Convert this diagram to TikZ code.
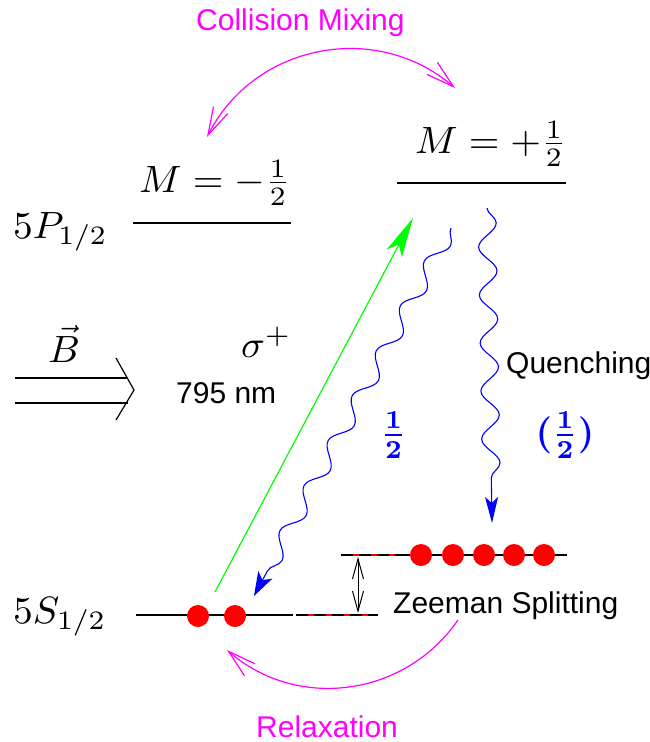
\documentclass[tikz,border=0pt]{standalone}
\usepackage{fontspec}
\setsansfont{Liberation Sans}
\usetikzlibrary{arrows.meta,decorations.pathmorphing}
\definecolor{mag}{RGB}{255,0,255}
\definecolor{grn}{RGB}{0,255,0}
\definecolor{blu}{RGB}{0,0,255}
\definecolor{dotred}{RGB}{255,0,0}
\newcommand{\bigmath}[1]{\scalebox{3.95}[3.8]{$#1$}}
\newcommand{\bigbold}[1]{\scalebox{3.7}{\boldmath$#1$}}
\begin{document}
\begin{tikzpicture}[x=1pt,y=-1pt,
  lbl/.style={inner sep=0pt, anchor=base west, font=\sffamily\fontsize{30}{34}\selectfont},
  mth/.style={inner sep=0pt, anchor=base west},
  bluelbl/.style={inner sep=0pt, text=blu},
  level/.style={line width=2.7pt},
  dashlevel/.style={line width=1.2pt},
  dotnode/.style={circle, fill=dotred, minimum size=22pt, inner sep=0pt},
  magarrow/.style={mag, line width=1.2pt},
  magtip/.tip={Straight Barb[length=28pt,width=16pt,line width=1.2pt]},
  wave/.style={blu, line width=1.1pt, decorate},
]
\useasboundingbox (0,0) rectangle (650,742);

% ---------------- levels
\coordinate (pL1) at (133,223); \coordinate (pL2) at (291,223);
\coordinate (pR1) at (397,183); \coordinate (pR2) at (566,183);
\coordinate (s1) at (136,615); \coordinate (s2) at (293,615);
\coordinate (s3) at (296,615); \coordinate (s4) at (378,615);
\coordinate (u0) at (341,555); \coordinate (u1) at (400,555); \coordinate (u2) at (567,555);

\draw[level] (pL1) -- (pL2);
\draw[level] (pR1) -- (pR2);
\draw[level] (s1) -- (s2);
\draw[level] (u1) -- (u2);
\draw[dashlevel, dotred] (s3) -- (s4);
\draw[dashlevel, dash pattern=on 12pt off 6pt] (s3) -- (s4);
\draw[dashlevel, dotred] (u0) -- (u1);
\draw[dashlevel, dash pattern=on 12pt off 6pt] (u0) -- (u1);

% ---------------- labels of levels
\node[mth] (lP) at (13,238) {\bigmath{5P_{1/2}}};
\node[mth] (lS) at (13,623) {\bigmath{5S_{1/2}}};
\node[mth] (mneg) at (139,192) {\bigmath{M=-\frac{1}{2}}};
\node[mth] (mpos) at (415,153) {\bigmath{M=+\frac{1}{2}}};

% ---------------- populations
\foreach \i/\x/\y in {a/198/616, b/235/616, c/421/555, d/453/555, e/484/555, f/514/555, g/544/555}
  \node[dotnode] (dot\i) at (\x,\y) {};

% ---------------- Zeeman splitting arrow
\coordinate (za) at (358,557); \coordinate (zb) at (358,613);
\draw[line width=1pt, {Straight Barb[length=20pt,width=11pt]}-{Straight Barb[length=20pt,width=11pt]}] (za) -- (zb);
\node[lbl] (zeeman) at (393,613) {Zeeman Splitting};

% ---------------- pumping light
\coordinate (g1) at (215,592); \coordinate (g2) at (413,218);
\draw[grn, line width=1.2pt, -{Stealth[length=40pt,width=17pt,inset=10pt]}] (g1) -- (g2);
\node[mth] (sig) at (241,357) {\bigmath{\sigma^+}};
\node[lbl] (nm) at (176,403) {795 nm};

% ---------------- B field
\coordinate (b1) at (15,378); \coordinate (b2) at (128,378);
\coordinate (b3) at (15,403); \coordinate (b4) at (128,403);
\coordinate (bh1) at (116,358); \coordinate (bh2) at (134,390); \coordinate (bh3) at (116,420);
\draw[line width=1.2pt] (b1) -- (b2);
\draw[line width=1.2pt] (b3) -- (b4);
\draw[line width=1.2pt] (bh1) -- (bh2) -- (bh3);
\node[mth, anchor=base] (B) at (64,362) {\bigmath{\vec{B}}};

% ---------------- spontaneous decay
\coordinate (w1a) at (451,228); \coordinate (w1b) at (254,596);
\draw[wave, decoration={snake, amplitude=8pt, segment length=51pt, post length=24pt},
  -{Stealth[length=24pt,width=16pt,inset=6pt]}] (w1a) -- (w1b);
\node[bluelbl] (half) at (393.5,435) {\bigbold{\frac{1}{2}}};

\coordinate (w2a) at (487,208); \coordinate (w2b) at (492,523);
\draw[wave, decoration={snake, amplitude=9pt, segment length=48pt, post length=28pt},
  -{Stealth[length=26pt,width=13pt,inset=6pt]}] (w2a) -- (w2b);
\node[lbl] (quench) at (506,373) {Quenching};
\node[bluelbl] (halfq) at (565,435) {\bigbold{(\frac{1}{2})}};

% ---------------- collision mixing
\coordinate (cm1) at (207,137); \coordinate (cm2) at (455,88);
\draw[magarrow, magtip-magtip] (cm1) .. controls (254,44) and (376,20) .. (cm2);
\node[lbl, text=mag] (coll) at (196,30) {Collision Mixing};

% ---------------- relaxation
\coordinate (rx1) at (458,620); \coordinate (rx2) at (227,650);
\draw[magarrow, -magtip] (rx1) .. controls (405,697) and (297,711) .. (rx2);
\node[lbl, text=mag] (relax) at (256,737) {Relaxation};
\end{tikzpicture}
\end{document}
